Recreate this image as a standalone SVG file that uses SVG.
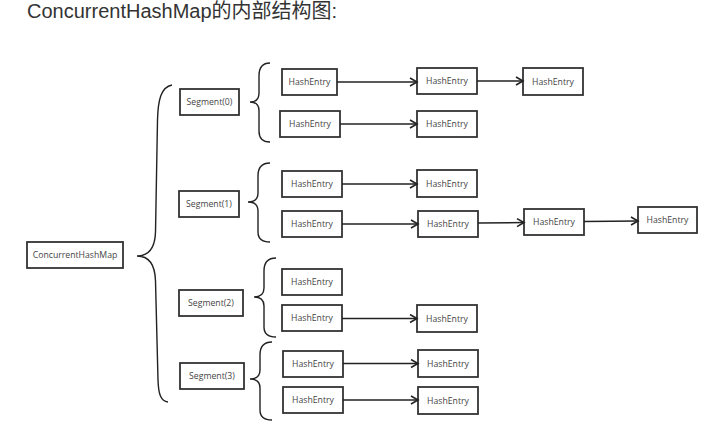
<svg xmlns="http://www.w3.org/2000/svg" width="727" height="434" viewBox="0 0 727 434">
<defs>
<style>
.box{fill:#fff;stroke:#333;stroke-width:1.8}
.lbl{font-family:"Open Sans","DejaVu Sans",sans-serif;font-size:8.7px;fill:#444;text-anchor:middle;dominant-baseline:central}
.br{fill:none;stroke:#222;stroke-width:1.4}
.ar{fill:none;stroke:#222;stroke-width:1.5;marker-end:url(#ah)}
</style>
<marker id="ah" markerUnits="userSpaceOnUse" markerWidth="10" markerHeight="10" refX="8" refY="5" orient="auto">
<path d="M1,1 L8,5 L1,9" fill="none" stroke="#222" stroke-width="1.6"/>
</marker>
</defs>
<rect width="727" height="434" fill="#fff"/>
<text x="27" y="18" font-family="'Liberation Sans','Noto Sans CJK SC',sans-serif" font-size="20" fill="#333">ConcurrentHashMap的内部结构图:</text>

<g id="chm"><rect class="box" x="27" y="242" width="96" height="26"/><text class="lbl" x="75" y="255">ConcurrentHashMap</text></g>

<g id="seg0"><rect class="box" x="180" y="89" width="59" height="26"/><text class="lbl" x="209.5" y="102">Segment(0)</text></g>
<g id="seg1"><rect class="box" x="179" y="191" width="60" height="26"/><text class="lbl" x="209" y="204">Segment(1)</text></g>
<g id="seg2"><rect class="box" x="179" y="290" width="64" height="26"/><text class="lbl" x="211" y="303">Segment(2)</text></g>
<g id="seg3"><rect class="box" x="180" y="363" width="64" height="26"/><text class="lbl" x="212" y="376">Segment(3)</text></g>

<g id="e00"><rect class="box" x="282" y="69" width="55" height="26"/><text class="lbl" x="309.5" y="82">HashEntry</text></g>
<g id="e01"><rect class="box" x="417" y="68" width="60" height="26"/><text class="lbl" x="447" y="81">HashEntry</text></g>
<g id="e02"><rect class="box" x="523" y="68" width="60" height="27"/><text class="lbl" x="553" y="81.5">HashEntry</text></g>

<g id="e10"><rect class="box" x="280" y="111" width="60" height="26"/><text class="lbl" x="310" y="124">HashEntry</text></g>
<g id="e11"><rect class="box" x="417" y="111" width="60" height="26"/><text class="lbl" x="447" y="124">HashEntry</text></g>

<g id="e20"><rect class="box" x="282" y="171" width="60" height="26"/><text class="lbl" x="312" y="184">HashEntry</text></g>
<g id="e21"><rect class="box" x="417" y="170" width="60" height="27"/><text class="lbl" x="447" y="183.5">HashEntry</text></g>

<g id="e30"><rect class="box" x="282" y="211" width="60" height="26"/><text class="lbl" x="312" y="224">HashEntry</text></g>
<g id="e31"><rect class="box" x="418" y="211" width="60" height="26"/><text class="lbl" x="448" y="224">HashEntry</text></g>
<g id="e32"><rect class="box" x="524" y="209" width="60" height="26"/><text class="lbl" x="554" y="222">HashEntry</text></g>
<g id="e33"><rect class="box" x="638" y="207" width="59" height="26"/><text class="lbl" x="667.5" y="220">HashEntry</text></g>

<g id="e40"><rect class="box" x="282" y="269" width="60" height="26"/><text class="lbl" x="312" y="282">HashEntry</text></g>

<g id="e50"><rect class="box" x="282" y="305" width="60" height="26"/><text class="lbl" x="312" y="318">HashEntry</text></g>
<g id="e51"><rect class="box" x="417" y="305" width="60" height="27"/><text class="lbl" x="447" y="318.5">HashEntry</text></g>

<g id="e60"><rect class="box" x="283" y="351" width="60" height="26"/><text class="lbl" x="313" y="364">HashEntry</text></g>
<g id="e61"><rect class="box" x="418" y="350" width="60" height="27"/><text class="lbl" x="448" y="363.5">HashEntry</text></g>

<g id="e70"><rect class="box" x="283" y="387" width="60" height="26"/><text class="lbl" x="313" y="400">HashEntry</text></g>
<g id="e71"><rect class="box" x="418" y="387" width="60" height="27"/><text class="lbl" x="448" y="400.5">HashEntry</text></g>

<g id="connectors">
<path class="br" d="M172,85 C161,87 158,100 157.5,120 L155.5,232 C155,249 148,256 137,256 C148,256 155,263 155.5,281 L158,380 C158.5,395 161,401 168,402"/>
<path class="br" d="M270,63 C262,63 259,68 259,76 L259,93 C259,99 256,102 250,102 C256,102 259,105 259,111 L259,131 C259,138 262,142 270,142"/>
<path class="br" d="M270,163 C262,163 258,168 258,176 L258,193 C258,199 255,202 248,202 C255,202 258,205 258,211 L258,232 C258,239 262,242 270,242"/>
<path class="br" d="M276,258 C268,258 264,263 264,271 L264,288 C264,294 261,297 254,297 C261,297 264,300 264,306 L264,327 C264,334 268,337 276,337"/>
<path class="br" d="M272,342 C264,342 260,347 260,355 L260,370 C260,376 257,379 250,379 C257,379 260,382 260,388 L260,410 C260,417 264,420 272,420"/>

<line class="ar" x1="337" y1="82" x2="417" y2="82"/>
<line class="ar" x1="477" y1="81" x2="523" y2="81"/>
<line class="ar" x1="340" y1="124" x2="417" y2="124"/>
<line class="ar" x1="342" y1="184" x2="417" y2="184"/>
<line class="ar" x1="342" y1="224" x2="418" y2="224"/>
<line class="ar" x1="478" y1="223" x2="524" y2="222.5"/>
<line class="ar" x1="584" y1="221.5" x2="638" y2="221"/>
<line class="ar" x1="342" y1="318.5" x2="417" y2="318.5"/>
<line class="ar" x1="343" y1="363.5" x2="418" y2="363.5"/>
<line class="ar" x1="343" y1="400" x2="418" y2="400"/>
</g>
</svg>
